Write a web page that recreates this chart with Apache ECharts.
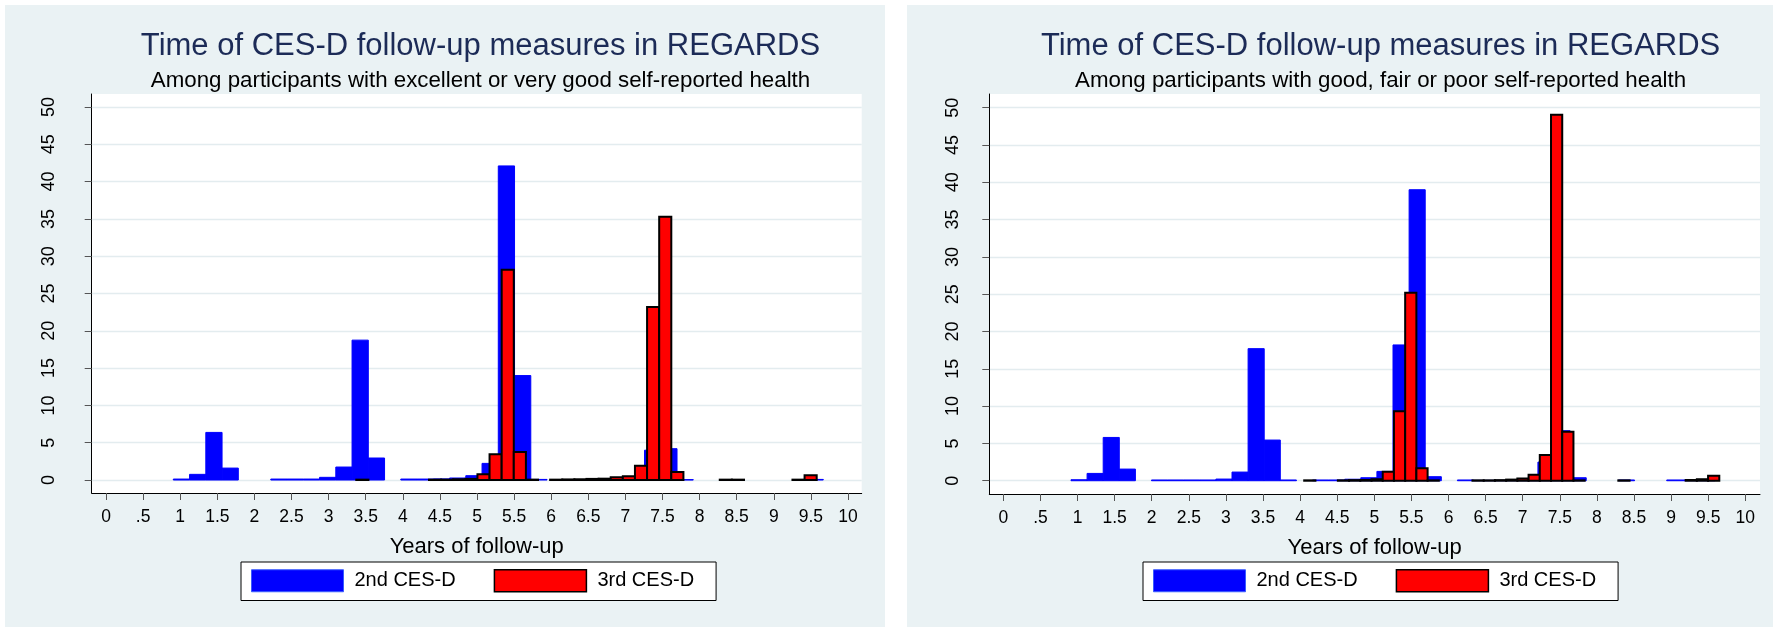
<!DOCTYPE html>
<html><head><meta charset="utf-8">
<script src="https://cdn.jsdelivr.net/npm/echarts@6/dist/echarts.min.js"></script>
<style>
html,body{margin:0;padding:0;background:#fff;width:1773px;height:627px;overflow:hidden;}
.panel{position:absolute;top:5px;height:622px;background:#eaf2f4;}
</style></head><body>
<div id="c1" class="panel" style="left:5px;width:880px"></div>
<div id="c2" class="panel" style="left:907px;width:866px"></div>
<script>
// ---------- text ----------
const titleText = 'Time of CES-D follow-up measures in REGARDS';
const subtitleLeft = 'Among participants with excellent or very good self-reported health';
const subtitleRight = 'Among participants with good, fair or poor self-reported health';
const xAxisTitle = 'Years of follow-up';
const seriesNames = ['2nd CES-D', '3rd CES-D'];

// ---------- ticks ----------
const xTicks = [0,0.5,1,1.5,2,2.5,3,3.5,4,4.5,5,5.5,6,6.5,7,7.5,8,8.5,9,9.5,10];
const xTickLabels = ['0','.5','1','1.5','2','2.5','3','3.5','4','4.5','5','5.5','6','6.5','7','7.5','8','8.5','9','9.5','10'];
const yTicks = [0,5,10,15,20,25,30,35,40,45,50];

// ---------- left panel data (percent per bin) ----------
const leftBlueStart = 0.907, leftBlueWidth = 0.219;
const leftBlue = [0.13,0.76,6.38,1.6,0,0,0.13,0.13,0.13,0.36,
                  1.74,18.75,2.95,0,0.13,0.13,0.15,0.27,0.58,2.23,
                  42.1,14.0,0.08,0,0,0,0,0,0.3,4.0,
                  4.2,0.05,0,0,0,0,0,0,0,0.08];
const leftRedStart = 3.373, leftRedWidth = 0.1633;
const leftRed = [0.05,0,0,0,0,0,0.05,0.05,0.1,0.15,
                 0.76,3.45,28.2,3.75,0.05,0,0.05,0.08,0.1,0.15,
                 0.18,0.36,0.5,1.9,23.2,35.3,1.07,0,0,0,
                 0.05,0.05,0,0,0,0,0.05,0.63];

// ---------- right panel data ----------
const rightBlueStart = 0.912, rightBlueWidth = 0.217;
const rightBlue = [0.13,0.98,5.8,1.56,0,0.1,0.1,0.1,0.1,0.22,
                   1.16,17.7,5.45,0.1,0,0.1,0.1,0.2,0.4,1.25,
                   18.2,39.0,0.54,0,0.1,0.05,0.05,0.05,0.2,2.5,
                   6.7,0.4,0,0,0.1,0,0,0.1,0.1,0.1];
const rightRedStart = 4.055, rightRedWidth = 0.1512;
const rightRed = [0.05,0,0,0.05,0.08,0.1,0.2,1.2,9.3,25.2,
                  1.66,0.05,0,0,0,0.05,0.05,0.08,0.15,0.3,
                  0.8,3.44,49.05,6.56,0.05,0,0,0,0.05,0,
                  0,0,0,0,0.1,0.2,0.67];

const BLUE = '#0000ff', RED = '#ff0000';
const FONT = 'Liberation Sans, Arial, sans-serif';

function histSeries(name, start, width, values, style) {
  const data = values.map((v, i) => [start + i * width, start + (i + 1) * width, v]);
  return {
    type: 'custom', name: name, data: data,
    encode: { x: [0, 1], y: 2 },
    itemStyle: { color: style.fill },
    renderItem: function (params, api) {
      const v = api.value(2);
      if (!(v > 0)) return;
      const p0 = api.coord([api.value(0), v]);
      const p1 = api.coord([api.value(1), 0]);
      return {
        type: 'rect',
        shape: { x: p0[0], y: p0[1], width: p1[0] - p0[0], height: p1[1] - p0[1] },
        style: { fill: style.fill, stroke: style.stroke, lineWidth: style.lineWidth }
      };
    }
  };
}

function buildOption(cfg) {
  return {
    animation: false,
    title: [
      { text: titleText, left: cfg.titleX, top: 21, textAlign: 'center',
        textStyle: { fontFamily: FONT, fontSize: 31, fontWeight: 'normal', color: '#1c2b57' } },
      { text: cfg.subtitle, left: cfg.titleX, top: 60, textAlign: 'center',
        textStyle: { fontFamily: FONT, fontSize: 22.3, fontWeight: 'normal', color: '#000' } }
    ],
    grid: { left: cfg.gridLeft, top: 89, width: cfg.gridW, height: cfg.gridH, show: true,
            backgroundColor: '#fff', borderWidth: 0, containLabel: false },
    xAxis: {
      type: 'value', min: cfg.xMin, max: cfg.xMax,
      name: xAxisTitle, nameLocation: 'middle', nameGap: 43,
      nameTextStyle: { fontFamily: FONT, fontSize: 22, color: '#000' },
      axisLine: { show: true, onZero: false, lineStyle: { color: '#000', width: 1 } },
      axisTick: { show: true, length: 7, customValues: xTicks, lineStyle: { color: '#555' } },
      axisLabel: { customValues: xTicks, margin: 15, fontFamily: FONT, fontSize: 17.5, color: '#000',
                   formatter: function (v) { const i = xTicks.indexOf(+v.toFixed(2)); return i >= 0 ? xTickLabels[i] : ''; } },
      splitLine: { show: false }
    },
    yAxis: {
      type: 'value', min: cfg.yMin, max: cfg.yMax,
      axisLine: { show: true, onZero: false, lineStyle: { color: '#000', width: 1 } },
      axisTick: { show: true, length: 7, customValues: yTicks, lineStyle: { color: '#555' } },
      axisLabel: { customValues: yTicks, rotate: 90, margin: cfg.yLabelMargin, fontFamily: FONT, fontSize: 18, color: '#000' },
      splitLine: { show: true, lineStyle: { color: '#e3ecef', width: 1.3 } }
    },
    legend: {
      left: cfg.legendLeft, top: 557, orient: 'horizontal',
      backgroundColor: '#fff', borderColor: '#000', borderWidth: 1,
      padding: [7, 22, 8, 10], itemGap: 38, itemWidth: 92, itemHeight: 22,
      selectedMode: false,
      textStyle: { fontFamily: FONT, fontSize: 20, color: '#000', padding: [0, 0, 0, 6] },
      data: [
        { name: seriesNames[0], icon: 'rect', itemStyle: { color: BLUE, borderColor: '#3a5cff', borderWidth: 1 } },
        { name: seriesNames[1], icon: 'rect', itemStyle: { color: RED, borderColor: '#000', borderWidth: 1.5 } }
      ]
    },
    series: [
      histSeries(seriesNames[0], cfg.blueStart, cfg.blueWidth, cfg.blue, { fill: BLUE, stroke: BLUE, lineWidth: 1 }),
      histSeries(seriesNames[1], cfg.redStart, cfg.redWidth, cfg.red, { fill: RED, stroke: '#000', lineWidth: 2 })
    ]
  };
}

const c1 = echarts.init(document.getElementById('c1'), null, { renderer: 'canvas' });
c1.setOption(buildOption({
  titleX: 470.5, subtitle: subtitleLeft,
  gridLeft: 86.7, gridW: 770, gridH: 399,
  xMin: -0.193, xMax: 10.185, yMin: -1.74, yMax: 51.74,
  legendLeft: 236, yLabelMargin: 34,
  blueStart: leftBlueStart, blueWidth: leftBlueWidth, blue: leftBlue,
  redStart: leftRedStart, redWidth: leftRedWidth, red: leftRed
}));
const c2 = echarts.init(document.getElementById('c2'), null, { renderer: 'canvas' });
c2.setOption(buildOption({
  titleX: 468.6, subtitle: subtitleRight,
  gridLeft: 82.3, gridW: 770.7, gridH: 400,
  xMin: -0.189, xMax: 10.198, yMin: -1.78, yMax: 51.83,
  legendLeft: 236, yLabelMargin: 27,
  blueStart: rightBlueStart, blueWidth: rightBlueWidth, blue: rightBlue,
  redStart: rightRedStart, redWidth: rightRedWidth, red: rightRed
}));
</script>
</body></html>
